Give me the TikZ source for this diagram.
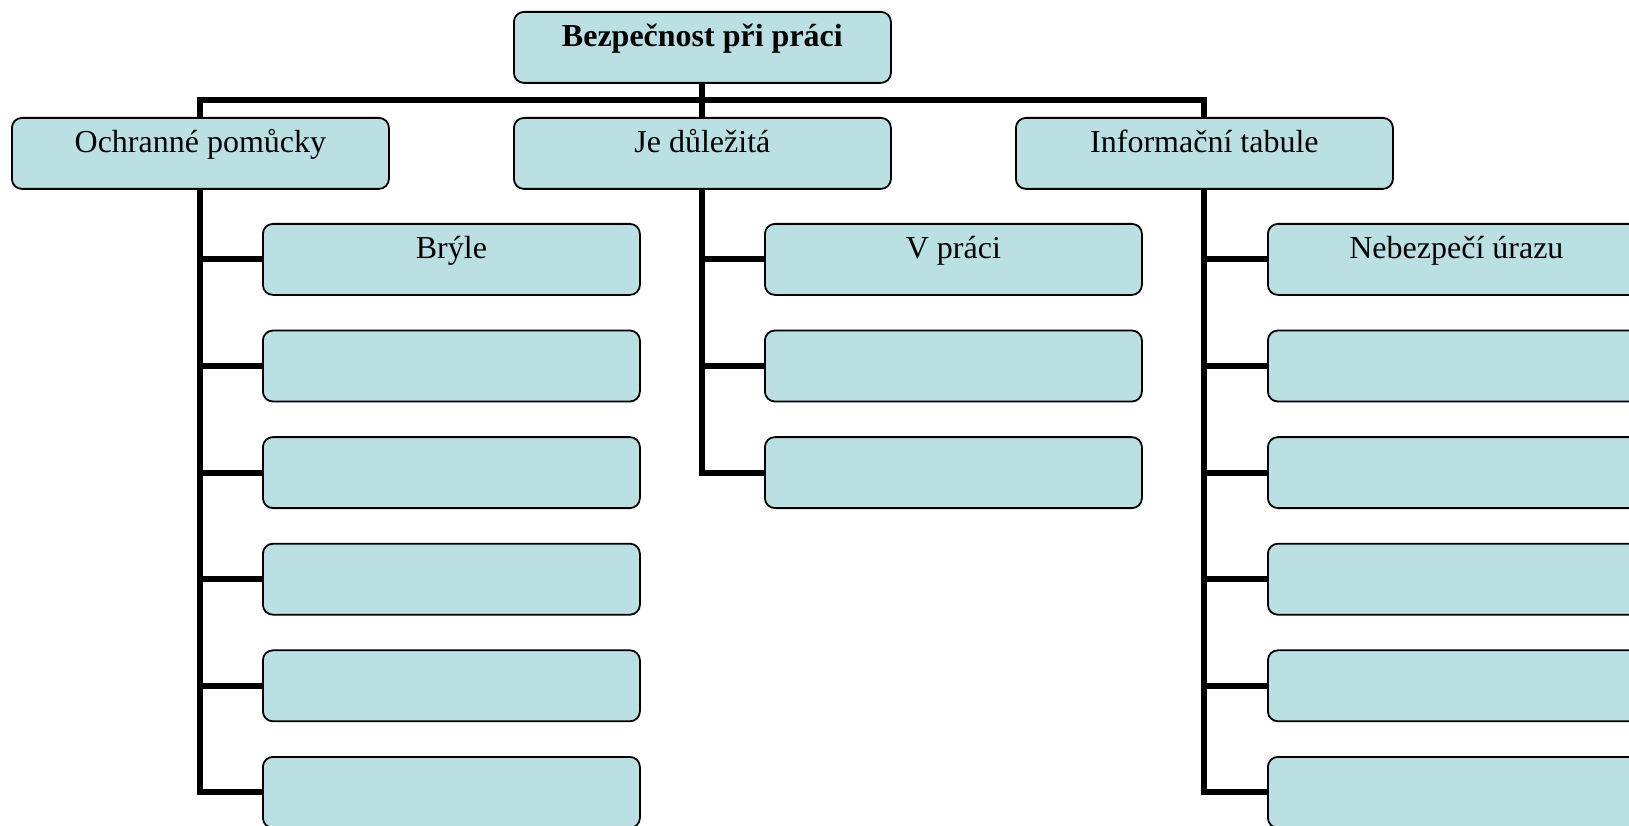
\documentclass[tikz,border=0pt]{standalone}
\usepackage{fontspec}
\setmainfont{Liberation Serif}
\definecolor{boxfill}{RGB}{186,224,227}
\begin{document}
\begin{tikzpicture}[x=1pt,y=-1pt,
  card/.style={draw=black, line width=1.8pt, fill=boxfill, rounded corners=10pt,
    minimum width=377pt, minimum height=71pt, inner xsep=0pt, inner ysep=0pt,
    text height=35pt, text depth=36pt, anchor=north west,
    font=\fontsize{32}{38}\selectfont},
  conn/.style={line width=6pt}]
\useasboundingbox (0,0) rectangle (1629,826);

% root and the three branches
\node[card, font=\fontsize{32}{38}\selectfont\bfseries] (root) at (513,11) {Bezpečnost při práci};
\node[card] (a) at (11,117)   {Ochranné pomůcky};
\node[card] (b) at (513,117)  {Je důležitá};
\node[card] (c) at (1015,117) {Informační tabule};

% leaves
\node[card] (a1) at (262,223)   {Brýle};
\node[card] (a2) at (262,329.6) {};
\node[card] (a3) at (262,436.2) {};
\node[card] (a4) at (262,542.8) {};
\node[card] (a5) at (262,649.4) {};
\node[card] (a6) at (262,756)   {};

\node[card] (b1) at (764,223)   {V práci};
\node[card] (b2) at (764,329.6) {};
\node[card] (b3) at (764,436.2) {};

\node[card] (c1) at (1267,223)   {Nebezpečí úrazu};
\node[card] (c2) at (1267,329.6) {};
\node[card] (c3) at (1267,436.2) {};
\node[card] (c4) at (1267,542.8) {};
\node[card] (c5) at (1267,649.4) {};
\node[card] (c6) at (1267,756)   {};

% connectors
\coordinate (bus) at (0,100);
\draw[conn] (root.south) -- (b.north);
\draw[conn] (a.north) -- (a.north |- bus) -- (c.north |- bus) -- (c.north);

\foreach \k in {1,...,6} {
  \draw[conn] (a.south) |- (a\k.west);
  \draw[conn] (c.south) |- (c\k.west);
}
\foreach \k in {1,...,3} {
  \draw[conn] (b.south) |- (b\k.west);
}
\end{tikzpicture}
\end{document}
